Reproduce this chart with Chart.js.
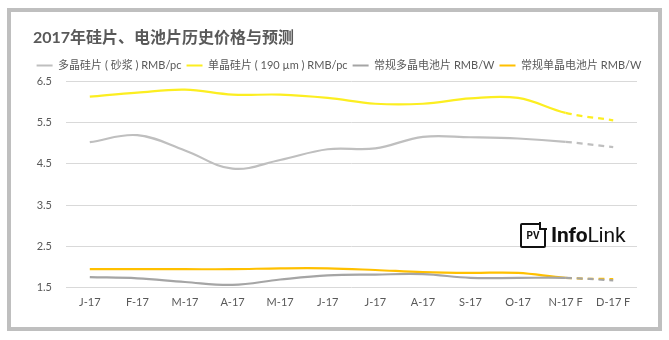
<!DOCTYPE html>
<html><head><meta charset="utf-8">
<script src="https://cdn.jsdelivr.net/npm/chart.js@4/dist/chart.umd.min.js"></script>
<style>
html,body{margin:0;padding:0;background:#fff;}
#wrap{position:relative;width:669px;height:340px;}
#frame{position:absolute;left:7px;top:8px;width:655px;height:323px;border:4px solid #BFBFBF;box-sizing:border-box;}
#c{position:absolute;left:0;top:0;}
#logo{position:absolute;left:520px;top:222px;height:26px;display:flex;align-items:center;font-family:Roboto,sans-serif;}
#pv{position:relative;width:22px;height:21px;border:2px solid #111;border-radius:2px;font-size:10px;font-weight:700;line-height:21px;text-align:center;color:#111;margin-right:5px;}
#pv:after{content:"";position:absolute;right:-3px;top:-3px;width:6px;height:6px;background:#fff;border-left:2px solid #111;border-bottom:2px solid #111;}
#il{font-size:21px;color:#111;letter-spacing:-0.2px;}
#il b{font-weight:700;}
#il span{font-weight:400;}
</style></head>
<body><div id="wrap"><div id="frame"></div><canvas id="c" width="669" height="340"></canvas>
<div id="logo"><div id="pv">PV</div><div id="il"><b>Info</b><span>Link</span></div></div></div>
<script>
const categories = ["J-17","F-17","M-17","A-17","M-17","J-17","J-17","A-17","S-17","O-17","N-17 F","D-17 F"];
const multiWafer = [5.02,5.19,4.82,4.38,4.59,4.85,4.87,5.15,5.14,5.11,5.03,4.90];
const monoWafer  = [6.12,6.22,6.29,6.17,6.17,6.09,5.95,5.95,6.08,6.09,5.73,5.55];
const multiCell  = [1.76,1.73,1.64,1.57,1.70,1.80,1.82,1.83,1.74,1.74,1.74,1.68];
const monoCell   = [1.95,1.95,1.95,1.95,1.97,1.97,1.93,1.88,1.86,1.86,1.74,1.71];
const seriesNames = ["多晶硅片 ( 砂浆 ) RMB/pc","单晶硅片 ( 190 µm ) RMB/pc","常规多晶电池片 RMB/W","常规单晶电池片 RMB/W"];
const yTicks = [1.5,2.5,3.5,4.5,5.5,6.5];

Chart.defaults.font.family = "Lato, 'Noto Sans CJK SC', sans-serif";
Chart.defaults.color = "#595959";

const dashLast = ctx => ctx.p0DataIndex >= 10 ? [6,5] : undefined;
function ds(label, data, color){
  return {label, data, borderColor:color, backgroundColor:color, borderWidth:2.2,
    pointRadius:0, tension:0.38, fill:false, segment:{borderDash:dashLast}};
}
const tweaks = {id:'tweaks',
  beforeLayout(chart){
    const lg = chart.legend;
    if(lg && !lg._patched){
      const f = lg.fit.bind(lg);
      lg.fit = function(){ const mw = this.maxWidth; this.maxWidth = 2000; f(); this.maxWidth = mw; this.width = mw; };
      const d = lg.draw.bind(lg);
      lg.draw = function(){ const l = this.left, r = this.right; this.left = l - 200 + 6.5; this.right = r + 200 + 6.5; d(); this.left = l; this.right = r; };
      lg._patched = true;
    }
  },
  afterLayout(chart){ if(chart.titleBlock){ chart.titleBlock.left += 5; } }
};
new Chart(document.getElementById('c'), {
  type:'line',
  plugins:[tweaks],
  data:{labels:categories, datasets:[
    ds(seriesNames[0], multiWafer, '#BFBFBF'),
    ds(seriesNames[1], monoWafer, '#FCEE21'),
    ds(seriesNames[2], multiCell, '#A5A5A5'),
    ds(seriesNames[3], monoCell, '#FFC000')
  ]},
  options:{
    responsive:false, animation:false,
    layout:{padding:{left:28,right:32,top:10,bottom:23}},
    plugins:{
      title:{display:true, text:"2017年硅片、电池片历史价格与预测", align:'start',
        font:{size:16, weight:'bold'}, color:'#595959', padding:{top:18.4,bottom:7.4}},
      legend:{display:true, labels:{boxWidth:16, boxHeight:2, padding:5, font:{size:11}, color:'#595959',
        generateLabels:(chart)=>Chart.defaults.plugins.legend.labels.generateLabels(chart).map(l=>({...l, lineWidth:0, lineDash:[], fillStyle:l.strokeStyle}))}},
      tooltip:{enabled:false}
    },
    scales:{
      x:{offset:true, grid:{display:false, drawTicks:false}, border:{display:false},
        ticks:{font:{size:11}, color:'#595959', padding:8, maxRotation:0, autoSkip:false}},
      y:{min:1.5, max:6.5, afterBuildTicks: s => { s.ticks = yTicks.map(v=>({value:v})); },
        afterFit: s => { s.width = 38; },
        grid:{color:'#D9D9D9', drawTicks:false, lineWidth:1}, border:{display:false},
        ticks:{font:{size:11}, color:'#595959', padding:14, callback:v=>v.toFixed(1)}}
    }
  }
});
</script></body></html>
